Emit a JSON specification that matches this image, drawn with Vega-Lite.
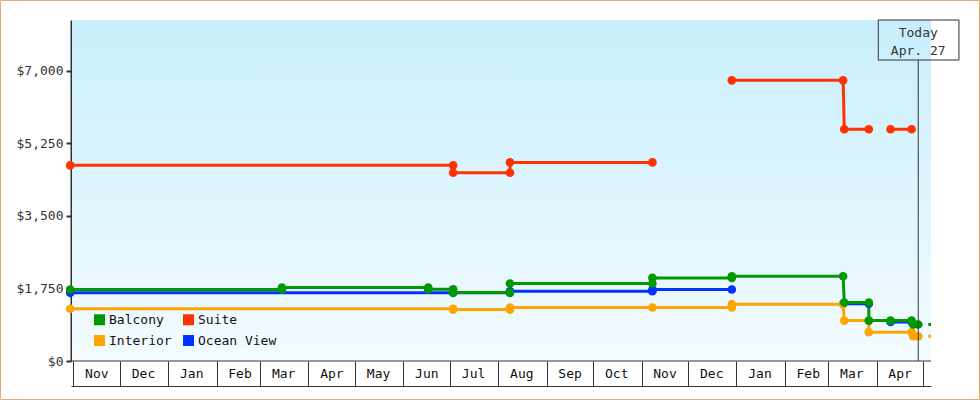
{
  "$schema": "https://vega.github.io/schema/vega-lite/v6.json",
  "width": 860,
  "height": 341,
  "autosize": {"type": "none"},
  "padding": {"left": 71, "top": 20, "right": 49, "bottom": 39},
  "background": "white",
  "config": {
    "view": {"stroke": null},
    "font": "DejaVu Sans Mono",
    "legend": {
      "title": null,
      "orient": "none",
      "legendX": 22,
      "legendY": 293,
      "columns": 2,
      "symbolType": "square",
      "symbolSize": 121,
      "symbolStrokeWidth": 0,
      "symbolOpacity": 1,
      "labelFont": "DejaVu Sans Mono",
      "labelFontSize": 13,
      "labelColor": "#111111",
      "labelOffset": 3,
      "rowPadding": 7,
      "columnPadding": 10,
      "padding": 0
    }
  },
  "datasets": {
    "prices": [
      {"series": "Ocean View", "segment": "OV1", "seq": 1, "date": "2012-10-30T00:00:00Z", "price": 1645},
      {"series": "Ocean View", "segment": "OV1", "seq": 2, "date": "2013-07-03T00:00:00Z", "price": 1645},
      {"series": "Ocean View", "segment": "OV1", "seq": 3, "date": "2013-08-08T12:00:00Z", "price": 1645},
      {"series": "Ocean View", "segment": "OV1", "seq": 4, "date": "2013-08-08T12:00:00Z", "price": 1682},
      {"series": "Ocean View", "segment": "OV1", "seq": 5, "date": "2013-11-08T00:00:00Z", "price": 1682},
      {"series": "Ocean View", "segment": "OV1", "seq": 6, "date": "2013-11-08T00:00:00Z", "price": 1724},
      {"series": "Ocean View", "segment": "OV1", "seq": 7, "date": "2013-12-29T00:00:00Z", "price": 1724},
      {"series": "Ocean View", "segment": "OV2", "seq": 8, "date": "2014-03-10T12:00:00Z", "price": 1380},
      {"series": "Ocean View", "segment": "OV2", "seq": 9, "date": "2014-03-27T00:00:00Z", "price": 1380},
      {"series": "Ocean View", "segment": "OV3", "seq": 10, "date": "2014-04-10T00:00:00Z", "price": 940},
      {"series": "Ocean View", "segment": "OV3", "seq": 11, "date": "2014-04-23T12:00:00Z", "price": 940},

      {"series": "Interior", "segment": "I1", "seq": 1, "date": "2012-10-30T00:00:00Z", "price": 1260},
      {"series": "Interior", "segment": "I1", "seq": 2, "date": "2013-07-03T00:00:00Z", "price": 1260},
      {"series": "Interior", "segment": "I1", "seq": 3, "date": "2013-07-03T00:00:00Z", "price": 1240},
      {"series": "Interior", "segment": "I1", "seq": 4, "date": "2013-08-08T12:00:00Z", "price": 1240},
      {"series": "Interior", "segment": "I1", "seq": 5, "date": "2013-08-08T12:00:00Z", "price": 1290},
      {"series": "Interior", "segment": "I1", "seq": 6, "date": "2013-11-08T00:00:00Z", "price": 1290},
      {"series": "Interior", "segment": "I1", "seq": 7, "date": "2013-12-29T00:00:00Z", "price": 1290},
      {"series": "Interior", "segment": "I1", "seq": 8, "date": "2013-12-29T00:00:00Z", "price": 1370},
      {"series": "Interior", "segment": "I1", "seq": 9, "date": "2014-03-10T12:00:00Z", "price": 1370},
      {"series": "Interior", "segment": "I1", "seq": 10, "date": "2014-03-11T06:00:00Z", "price": 975},
      {"series": "Interior", "segment": "I1", "seq": 11, "date": "2014-03-27T00:00:00Z", "price": 975},
      {"series": "Interior", "segment": "I1", "seq": 12, "date": "2014-03-27T00:00:00Z", "price": 695},
      {"series": "Interior", "segment": "I1", "seq": 13, "date": "2014-04-23T12:00:00Z", "price": 695},
      {"series": "Interior", "segment": "I1", "seq": 14, "date": "2014-04-24T12:00:00Z", "price": 596},
      {"series": "Interior", "segment": "I1", "seq": 15, "date": "2014-04-27T18:00:00Z", "price": 596},

      {"series": "Suite", "segment": "S1", "seq": 1, "date": "2012-10-30T00:00:00Z", "price": 4720},
      {"series": "Suite", "segment": "S1", "seq": 2, "date": "2013-07-03T00:00:00Z", "price": 4720},
      {"series": "Suite", "segment": "S1", "seq": 3, "date": "2013-07-03T00:00:00Z", "price": 4540},
      {"series": "Suite", "segment": "S1", "seq": 4, "date": "2013-08-08T12:00:00Z", "price": 4540},
      {"series": "Suite", "segment": "S1", "seq": 5, "date": "2013-08-08T12:00:00Z", "price": 4790},
      {"series": "Suite", "segment": "S1", "seq": 6, "date": "2013-11-08T00:00:00Z", "price": 4790},
      {"series": "Suite", "segment": "S2", "seq": 7, "date": "2013-12-29T00:00:00Z", "price": 6770},
      {"series": "Suite", "segment": "S2", "seq": 8, "date": "2014-03-10T12:00:00Z", "price": 6770},
      {"series": "Suite", "segment": "S2", "seq": 9, "date": "2014-03-11T06:00:00Z", "price": 5590},
      {"series": "Suite", "segment": "S2", "seq": 10, "date": "2014-03-27T00:00:00Z", "price": 5590},
      {"series": "Suite", "segment": "S3", "seq": 11, "date": "2014-04-10T00:00:00Z", "price": 5590},
      {"series": "Suite", "segment": "S3", "seq": 12, "date": "2014-04-23T12:00:00Z", "price": 5590},

      {"series": "Balcony", "segment": "B1", "seq": 1, "date": "2012-10-30T00:00:00Z", "price": 1725},
      {"series": "Balcony", "segment": "B1", "seq": 2, "date": "2013-03-15T00:00:00Z", "price": 1725},
      {"series": "Balcony", "segment": "B1", "seq": 3, "date": "2013-03-15T00:00:00Z", "price": 1770},
      {"series": "Balcony", "segment": "B1", "seq": 4, "date": "2013-06-17T00:00:00Z", "price": 1770},
      {"series": "Balcony", "segment": "B1", "seq": 5, "date": "2013-06-17T00:00:00Z", "price": 1730},
      {"series": "Balcony", "segment": "B1", "seq": 6, "date": "2013-07-03T00:00:00Z", "price": 1730},
      {"series": "Balcony", "segment": "B1", "seq": 7, "date": "2013-07-03T00:00:00Z", "price": 1650},
      {"series": "Balcony", "segment": "B1", "seq": 8, "date": "2013-08-08T12:00:00Z", "price": 1650},
      {"series": "Balcony", "segment": "B1", "seq": 9, "date": "2013-08-08T12:00:00Z", "price": 1870},
      {"series": "Balcony", "segment": "B1", "seq": 10, "date": "2013-11-08T00:00:00Z", "price": 1870},
      {"series": "Balcony", "segment": "B1", "seq": 11, "date": "2013-11-08T00:00:00Z", "price": 2005},
      {"series": "Balcony", "segment": "B1", "seq": 12, "date": "2013-12-29T00:00:00Z", "price": 2005},
      {"series": "Balcony", "segment": "B1", "seq": 13, "date": "2013-12-29T00:00:00Z", "price": 2045},
      {"series": "Balcony", "segment": "B1", "seq": 14, "date": "2014-03-10T12:00:00Z", "price": 2045},
      {"series": "Balcony", "segment": "B1", "seq": 15, "date": "2014-03-11T06:00:00Z", "price": 1410},
      {"series": "Balcony", "segment": "B1", "seq": 16, "date": "2014-03-27T00:00:00Z", "price": 1410},
      {"series": "Balcony", "segment": "B1", "seq": 17, "date": "2014-03-27T00:00:00Z", "price": 975},
      {"series": "Balcony", "segment": "B1", "seq": 18, "date": "2014-04-10T00:00:00Z", "price": 975},
      {"series": "Balcony", "segment": "B1", "seq": 19, "date": "2014-04-23T12:00:00Z", "price": 975},
      {"series": "Balcony", "segment": "B1", "seq": 20, "date": "2014-04-24T12:00:00Z", "price": 880},
      {"series": "Balcony", "segment": "B1", "seq": 21, "date": "2014-04-27T18:00:00Z", "price": 880}
    ],
    "projection": [
      {"series": "Interior", "seq": 1, "date": "2014-04-27T18:00:00Z", "price": 596},
      {"series": "Interior", "seq": 2, "date": "2014-05-08T00:00:00Z", "price": 596},
      {"series": "Balcony", "seq": 1, "date": "2014-04-27T18:00:00Z", "price": 880},
      {"series": "Balcony", "seq": 2, "date": "2014-05-08T00:00:00Z", "price": 880}
    ],
    "today": [
      {"date": "2014-04-27T18:00:00Z", "line1": "Today", "line2": "Apr. 27"}
    ]
  },
  "layer": [
    {
      "data": {"values": [{}]},
      "mark": {
        "type": "rect",
        "color": {
          "gradient": "linear",
          "x1": 0, "y1": 0, "x2": 0, "y2": 1,
          "stops": [
            {"offset": 0, "color": "#c8eefc"},
            {"offset": 1, "color": "#f3fbff"}
          ]
        }
      },
      "encoding": {
        "x": {"datum": {"year": 2012, "month": 10, "date": 31, "hours": 4, "utc": true}, "type": "temporal",
              "scale": {"type": "utc", "domain": [{"year": 2012, "month": 10, "date": 30, "hours": 12, "minutes": 33, "utc": true}, {"year": 2014, "month": 5, "date": 5, "hours": 22, "minutes": 50, "utc": true}]},
              "axis": {
                "title": null,
                "orient": "bottom",
                "offset": 25,
                "grid": false,
                "tickCount": {"interval": "month", "step": 1},
                "tickSize": -25,
                "tickColor": "#333333",
                "tickWidth": 1,
                "domainColor": "#333333",
                "domainWidth": 1,
                "labelExpr": "utcFormat(datum.value, '%Y-%m') == '2014-05' ? '' : utcFormat(datum.value, '%b')",
                "labelOffset": 23,
                "labelPadding": 6,
                "labelAlign": "center",
                "labelBaseline": "top",
                "labelFlush": false,
                "labelOverlap": false,
                "labelBound": false,
                "labelFont": "DejaVu Sans Mono",
                "labelFontSize": 13,
                "labelColor": "#111111"
              }},
        "x2": {"datum": {"year": 2014, "month": 5, "date": 5, "hours": 22, "minutes": 50, "utc": true}},
        "y": {"datum": 0, "type": "quantitative",
              "scale": {"domain": [0, 8225], "nice": false, "zero": true},
              "axis": {
                "title": null,
                "grid": false,
                "values": [0, 1750, 3500, 5250, 7000],
                "format": "$,d",
                "domainColor": "#333333",
                "domainWidth": 2,
                "tickColor": "#333333",
                "tickWidth": 2,
                "tickSize": 5,
                "labelFont": "DejaVu Sans Mono",
                "labelFontSize": 13,
                "labelColor": "#333333",
                "labelPadding": 3
              }},
        "y2": {"datum": 8225}
      }
    },
    {
      "data": {"values": [{}]},
      "mark": {"type": "rule", "color": "#333333", "strokeWidth": 1},
      "encoding": {"y": {"datum": 0, "type": "quantitative"}}
    },
    {
      "data": {"name": "prices"},
      "mark": {"type": "line", "strokeWidth": 3},
      "encoding": {
        "x": {"field": "date", "type": "temporal"},
        "y": {"field": "price", "type": "quantitative"},
        "color": {"field": "series", "type": "nominal",
                  "scale": {"domain": ["Balcony", "Interior", "Suite", "Ocean View"], "range": ["#009900", "#ffa500", "#ff3300", "#0033ff"]}},
        "detail": {"field": "segment"},
        "order": {"field": "seq", "type": "quantitative"}
      }
    },
    {
      "data": {"name": "projection"},
      "mark": {"type": "line", "strokeWidth": 3, "strokeDash": [4, 6], "clip": true},
      "encoding": {
        "x": {"field": "date", "type": "temporal"},
        "y": {"field": "price", "type": "quantitative"},
        "color": {"field": "series", "type": "nominal"},
        "order": {"field": "seq", "type": "quantitative"}
      }
    },
    {
      "data": {"name": "prices"},
      "mark": {"type": "point", "filled": true, "size": 75, "opacity": 1, "shape": "circle"},
      "encoding": {
        "x": {"field": "date", "type": "temporal"},
        "y": {"field": "price", "type": "quantitative"},
        "color": {"field": "series", "type": "nominal"}
      }
    },
    {
      "data": {"name": "today"},
      "mark": {"type": "rule", "color": "#333333", "strokeWidth": 1},
      "encoding": {
        "x": {"field": "date", "type": "temporal"},
        "y": {"datum": 0, "type": "quantitative"},
        "y2": {"datum": 7260}
      }
    },
    {
      "data": {"name": "today"},
      "mark": {"type": "rect", "fill": "white", "fillOpacity": 0, "stroke": "#333333", "strokeWidth": 1, "clip": false},
      "encoding": {
        "x": {"datum": {"year": 2014, "month": 4, "date": 2, "hours": 2, "utc": true}, "type": "temporal"},
        "x2": {"datum": {"year": 2014, "month": 5, "date": 23, "hours": 22, "utc": true}},
        "y": {"datum": 8225, "type": "quantitative"},
        "y2": {"datum": 7260}
      }
    },
    {
      "data": {"name": "today"},
      "mark": {"type": "text", "font": "DejaVu Sans Mono", "fontSize": 13, "color": "#333333", "align": "center", "baseline": "middle", "clip": false},
      "encoding": {
        "x": {"field": "date", "type": "temporal"},
        "y": {"datum": 7918, "type": "quantitative"},
        "text": {"field": "line1"}
      }
    },
    {
      "data": {"name": "today"},
      "mark": {"type": "text", "font": "DejaVu Sans Mono", "fontSize": 13, "color": "#333333", "align": "center", "baseline": "middle", "clip": false},
      "encoding": {
        "x": {"field": "date", "type": "temporal"},
        "y": {"datum": 7478, "type": "quantitative"},
        "text": {"field": "line2"}
      }
    },
    {
      "data": {"values": [{}]},
      "mark": {"type": "rect", "fill": "white", "fillOpacity": 0, "stroke": "#e9a968", "strokeWidth": 1, "clip": false},
      "encoding": {
        "x": {"datum": {"year": 2012, "month": 9, "date": 15, "hours": 5, "minutes": 45, "utc": true}, "type": "temporal"},
        "x2": {"datum": {"year": 2014, "month": 6, "date": 6, "hours": 2, "minutes": 24, "utc": true}},
        "y": {"datum": 8696, "type": "quantitative"},
        "y2": {"datum": -929}
      }
    }
  ]
}
